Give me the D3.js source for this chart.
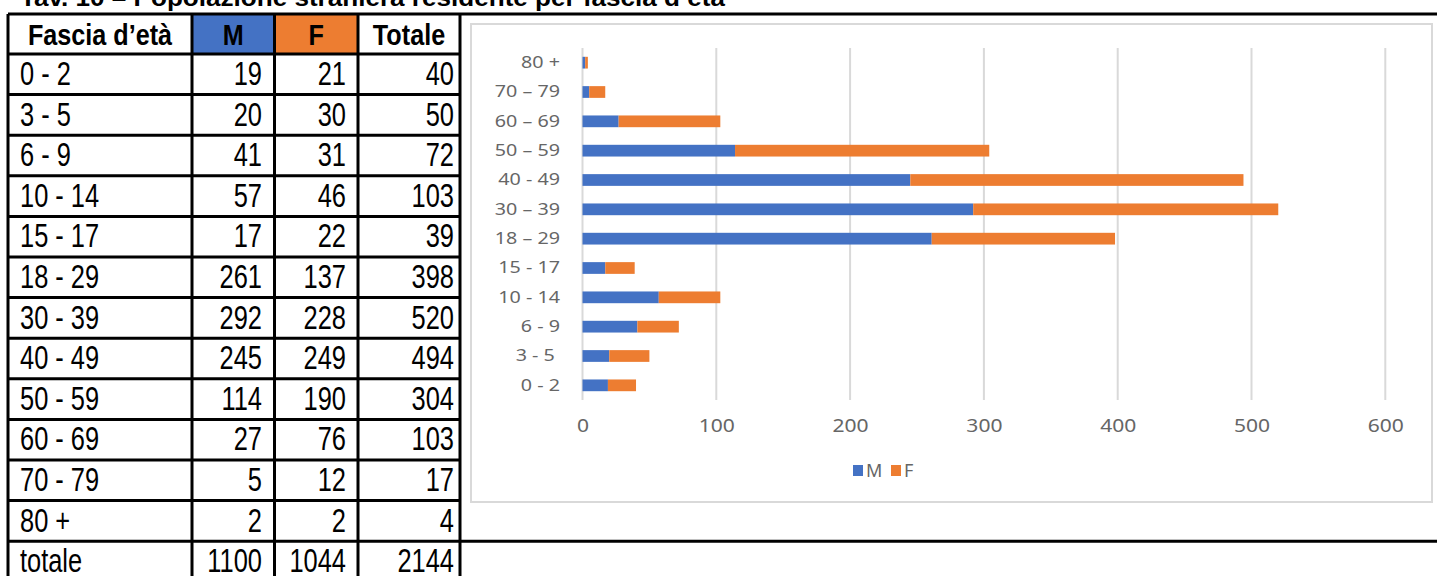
<!DOCTYPE html>
<html>
<head>
<meta charset="utf-8">
<script src="https://cdn.jsdelivr.net/npm/d3@7"></script>
<style>
  body { margin: 0; background: #fff; }
  svg { display: block; }
  .tbl { font-family: "Liberation Sans Narrow", "Arial Narrow", "Liberation Sans", sans-serif; fill: #000; }
  .chart-text { font-family: "Noto Sans", "Open Sans", sans-serif; fill: #666; white-space: pre; }
</style>
</head>
<body>
<div id="chart"></div>
<script>
// table / chart data
const ageGroups = ["0 - 2", "3 - 5", "6 - 9", "10 - 14", "15 - 17", "18 - 29", "30 - 39", "40 - 49", "50 - 59", "60 - 69", "70 - 79", "80 +"];
const chartLabels = ["0 - 2", "3 - 5 ", "6 - 9", "10 - 14", "15 - 17", "18 – 29", "30 – 39", "40 - 49", "50 – 59", "60 – 69", "70 – 79", "80 +"];
const maleValues = [19, 20, 41, 57, 17, 261, 292, 245, 114, 27, 5, 2];
const femaleValues = [21, 30, 31, 46, 22, 137, 228, 249, 190, 76, 12, 2];
const xTicks = [0, 100, 200, 300, 400, 500, 600];
const seriesNames = ["M", "F"];
const colors = ["#4472C4", "#ED7D31"];

const width = 1437, height = 576;

const svg = d3.select("#chart").append("svg")
    .attr("width", width)
    .attr("height", height);

// title (mostly cut off at the top)
svg.append("text")
    .attr("x", 20)
    .attr("y", 6)
    .attr("font-family", "Liberation Sans, Arial, sans-serif")
    .attr("font-weight", "bold")
    .attr("font-size", 23)
    .attr("textLength", 705)
    .attr("lengthAdjust", "spacingAndGlyphs")
    .text("Tav. 10 – Popolazione straniera residente per fascia d’età");

// ---------- table ----------
const colX = [8, 192, 274.5, 358, 460];
const tableTop = 14, headTop = 54, rowH = 40.6;
const bodyScale = 0.77, headScale = 0.84;

const rows = ageGroups.map((g, i) => [g, maleValues[i], femaleValues[i], maleValues[i] + femaleValues[i]]);
rows.push(["totale", d3.sum(maleValues), d3.sum(femaleValues), d3.sum(maleValues) + d3.sum(femaleValues)]);

const tbl = svg.append("g").attr("class", "tbl");

// header fills
tbl.append("rect").attr("x", colX[1]).attr("y", tableTop).attr("width", colX[2] - colX[1]).attr("height", headTop - tableTop).attr("fill", colors[0]);
tbl.append("rect").attr("x", colX[2]).attr("y", tableTop).attr("width", colX[3] - colX[2]).attr("height", headTop - tableTop).attr("fill", colors[1]);

const headers = ["Fascia d’età", "M", "F", "Totale"];
tbl.selectAll("text.head")
    .data(headers)
    .enter().append("text")
    .attr("class", "head")
    .attr("transform", (d, i) => `translate(${(colX[i] + colX[i + 1]) / 2},45) scale(${headScale},1)`)
    .attr("text-anchor", "middle")
    .attr("font-weight", "bold")
    .attr("font-size", 30)
    .text(d => d);

const rowG = tbl.selectAll("g.row")
    .data(rows)
    .enter().append("g")
    .attr("class", "row")
    .attr("transform", (d, i) => `translate(0,${headTop + i * rowH})`);

rowG.append("text")
    .attr("transform", `translate(20,31) scale(${bodyScale},1)`)
    .attr("font-size", 33)
    .text(d => d[0]);

const numRight = [262, 346, 454];
[1, 2, 3].forEach((c, k) => {
    rowG.append("text")
        .attr("transform", `translate(${numRight[k]},31) scale(${bodyScale},1)`)
        .attr("text-anchor", "end")
        .attr("font-size", 33)
        .text(d => d[c]);
});

// table lines
const lines = svg.append("g").attr("stroke", "#000").attr("stroke-width", 3);
const tableBottom = headTop + rows.length * rowH;
lines.append("line").attr("x1", colX[0]).attr("x2", width).attr("y1", tableTop).attr("y2", tableTop);
d3.range(rows.length + 1).forEach(i => {
    const y = headTop + i * rowH;
    const x2 = (i === rows.length - 1) ? width : colX[4];
    lines.append("line").attr("x1", colX[0]).attr("x2", x2).attr("y1", y).attr("y2", y);
});
colX.forEach(x => {
    lines.append("line").attr("x1", x).attr("x2", x).attr("y1", tableTop).attr("y2", tableBottom);
});

// ---------- chart ----------
const box = {x: 471, y: 24, w: 961, h: 478};
svg.append("rect")
    .attr("x", box.x).attr("y", box.y)
    .attr("width", box.w).attr("height", box.h)
    .attr("fill", "#fff")
    .attr("stroke", "#d9d9d9")
    .attr("stroke-width", 2);

const x = d3.scaleLinear()
    .domain([0, 600])
    .range([582.5, 1385.3]);

const y = d3.scaleBand()
    .domain(d3.range(ageGroups.length).reverse())
    .range([48, 400])
    .paddingInner(0.6)
    .paddingOuter(0.3);

// gridlines
svg.append("g")
    .selectAll("line")
    .data(xTicks)
    .enter().append("line")
    .attr("x1", d => x(d)).attr("x2", d => x(d))
    .attr("y1", 48).attr("y2", 400)
    .attr("stroke", "#d9d9d9")
    .attr("stroke-width", 2);

// x axis labels
const xAxis = svg.append("g")
    .attr("transform", "translate(0,419)")
    .call(d3.axisBottom(x).tickValues(xTicks).tickSize(0).tickPadding(0));
xAxis.select(".domain").remove();
xAxis.selectAll("text")
    .attr("class", "chart-text")
    .attr("font-size", 18)
    .attr("dy", "0.71em")
    .attr("transform", "scale(1.17,1)")
    .attr("fill", "#666");

// y axis labels
const yAxis = svg.append("g")
    .attr("transform", "translate(560,0)")
    .call(d3.axisLeft(y).tickSize(0).tickPadding(0).tickFormat(i => chartLabels[i]));
yAxis.select(".domain").remove();
yAxis.selectAll("text")
    .attr("class", "chart-text")
    .attr("font-size", 17)
    .attr("transform", "scale(1.16,1)")
    .attr("fill", "#666");

// stacked bars
const stackData = ageGroups.map((g, i) => ({idx: i, M: maleValues[i], F: femaleValues[i]}));
const series = d3.stack().keys(seriesNames)(stackData);

svg.append("g")
    .selectAll("g")
    .data(series)
    .enter().append("g")
    .attr("fill", (d, i) => colors[i])
    .selectAll("rect")
    .data(d => d)
    .enter().append("rect")
    .attr("x", d => x(d[0]))
    .attr("y", d => y(d.data.idx))
    .attr("width", d => x(d[1]) - x(d[0]))
    .attr("height", y.bandwidth());

// legend
const legend = svg.append("g").attr("transform", "translate(853,465)");
const legX = [0, 38];
seriesNames.forEach((s, i) => {
    legend.append("rect")
        .attr("x", legX[i]).attr("y", 0)
        .attr("width", 10).attr("height", 11)
        .attr("fill", colors[i]);
    legend.append("text")
        .attr("class", "chart-text")
        .attr("x", legX[i] + 13)
        .attr("y", 12)
        .attr("font-size", 18)
        .attr("fill", "#666")
        .text(s);
});
</script>
</body>
</html>
